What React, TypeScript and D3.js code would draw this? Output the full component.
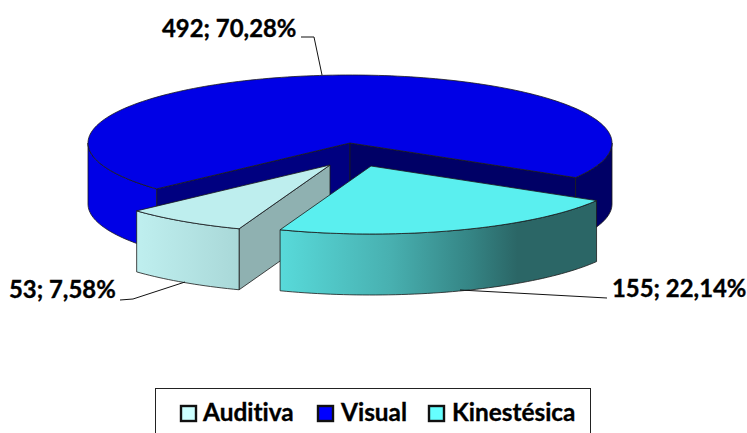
import * as d3 from 'd3';

const categories = ['Auditiva', 'Visual', 'Kinestésica'];
const counts = [53, 492, 155];
const dataLabels = ['53; 7,58%', '492; 70,28%', '155; 22,14%'];

const topColors = ['#BEEEEE', '#0000E6', '#5AEFEF'];
const legendColors = ['#CCFFFF', '#0000FF', '#66FFFF'];
// wall on the start edge, wall on the end edge
const wallColors = [['#8FB1B1', '#8FB1B1'], ['#000080', '#000066'], ['#2B6666', '#2B6666']];
const sideStops: [number, string][][] = [
  [[0, '#BFEFEF'], [1, '#A9D8D8']],
  [[0, '#0000E6'], [1, '#0000E6']],
  [[0, '#58DADA'], [0.35, '#48B0B0'], [0.6, '#358585'], [0.75, '#2B6666'], [1, '#2B6666']],
];

// pixel layout
const width = 747;
const height = 433;
const cx = 350;
const cy = 143;
const rx = 262;
const ry = 68;
const depth = 61;
const offsets = [[-20, 22], [0, 0], [21, 23]];
const drawOrder = [1, 0, 2];
const firstAngle = 200.3;

const leaders = [
  [[120, 300], [133, 299], [185, 282]],
  [[301, 37], [314, 37], [322, 75]],
  [[607, 298], [460, 290]],
];
const labelPos = [[9, 298], [162, 37], [612, 297]];
const legendItems = [[181, 203], [318, 341], [429, 452]];

const font = 'Lato, Carlito, Calibri, sans-serif';

const rad = (d: number) => (d * Math.PI) / 180;

const xScale = d3.scaleLinear().domain([-1, 1]).range([cx - rx, cx + rx]);
const yScale = d3.scaleLinear().domain([-1, 1]).range([cy - ry, cy + ry]);

const pie = d3.pie<number>().sort(null)
  .startAngle(rad(firstAngle))
  .endAngle(rad(firstAngle + 360));
const slices = pie(counts);

const line = d3.line<[number, number]>();

// point on the rim for a d3 pie angle (0 = up, clockwise)
const rim = (a: number, i: number, drop = 0): [number, number] => [
  xScale(Math.sin(a)) + offsets[i][0],
  yScale(-Math.cos(a)) + offsets[i][1] + drop,
];
const apex = (i: number, drop = 0): [number, number] => [
  xScale(0) + offsets[i][0],
  yScale(0) + offsets[i][1] + drop,
];

const arcPoints = (a0: number, a1: number, i: number, drop = 0) => {
  const n = Math.max(2, Math.ceil((a1 - a0) * 40));
  return d3.range(n + 1).map(k => rim(a0 + ((a1 - a0) * k) / n, i, drop));
};

const topPath = (i: number) => {
  const s = slices[i];
  return line([apex(i), ...arcPoints(s.startAngle, s.endAngle, i)]) + 'Z';
};

// parts of the rim that face the viewer (lower half of the ellipse)
const sidePaths = (i: number) => {
  const s = slices[i];
  const out: { d: string; right: boolean }[] = [];
  for (const k of [0, 1]) {
    const lo = Math.max(s.startAngle, rad(90 + 360 * k));
    const hi = Math.min(s.endAngle, rad(270 + 360 * k));
    if (hi <= lo) continue;
    const upper = arcPoints(lo, hi, i);
    const lower = arcPoints(lo, hi, i, depth).reverse();
    out.push({ d: line([...upper, ...lower]) + 'Z', right: k === 1 });
  }
  return out;
};

// radial walls, only those turned to the viewer
const wallPaths = (i: number) => {
  const s = slices[i];
  const quad = (a: number) => {
    const p = rim(a, i);
    return line([apex(i), p, [p[0], p[1] + depth], apex(i, depth)]) + 'Z';
  };
  const out: { d: string; fill: string }[] = [];
  if (Math.sin(s.startAngle) < 0) out.push({ d: quad(s.startAngle), fill: wallColors[i][0] });
  if (Math.sin(s.endAngle) > 0) out.push({ d: quad(s.endAngle), fill: wallColors[i][1] });
  return out;
};

export default function App() {
  const textStyle = { fontVariantLigatures: 'none' as const };
  return (
    <svg
      width={width}
      height={height}
      viewBox={`0 0 ${width} ${height}`}
      style={{ position: 'absolute', left: 0, top: 0, background: '#fff' }}
    >
      <defs>
        {sideStops.map((stops, i) => (
          <linearGradient key={i} id={`side-${i}`} x1="0" x2="1" y1="0" y2="0">
            {stops.map(([o, c]) => (
              <stop key={o} offset={o} stopColor={c} />
            ))}
          </linearGradient>
        ))}
      </defs>

      {drawOrder.map(i => (
        <g key={categories[i]} stroke="#1a1a1a" strokeWidth={0.8} strokeLinejoin="round">
          {wallPaths(i).map((w, k) => (
            <path key={k} d={w.d} fill={w.fill} />
          ))}
          {sidePaths(i).map((s, k) => (
            // the visual slice's right-hand rim sits in shadow
            <path key={k} d={s.d} fill={i === 1 && s.right ? '#000066' : `url(#side-${i})`} />
          ))}
          <path d={topPath(i)} fill={topColors[i]} />
        </g>
      ))}

      {leaders.map((pts, i) => (
        <path key={i} d={line(pts as [number, number][]) ?? ''} fill="none" stroke="#111" strokeWidth={1} />
      ))}
      {dataLabels.map((t, i) => (
        <text key={t} x={labelPos[i][0]} y={labelPos[i][1]} fontFamily={font} fontWeight={700} fontSize={23.9}
          fill="#000" stroke="#000" strokeWidth={0.35} style={textStyle}>
          {t}
        </text>
      ))}

      {/* legend box runs off the bottom edge */}
      <rect x={155.5} y={388.5} width={435} height={60} fill="#fff" stroke="#222" strokeWidth={1} />
      {categories.map((c, i) => (
        <g key={c}>
          <rect x={legendItems[i][0]} y={406} width={15} height={15} fill={legendColors[i]} stroke="#111" strokeWidth={2.4} />
          <text x={legendItems[i][1]} y={421} fontFamily={font} fontWeight={700} fontSize={24.4}
            fill="#000" stroke="#000" strokeWidth={0.35} style={textStyle}>
            {c}
          </text>
        </g>
      ))}
    </svg>
  );
}
